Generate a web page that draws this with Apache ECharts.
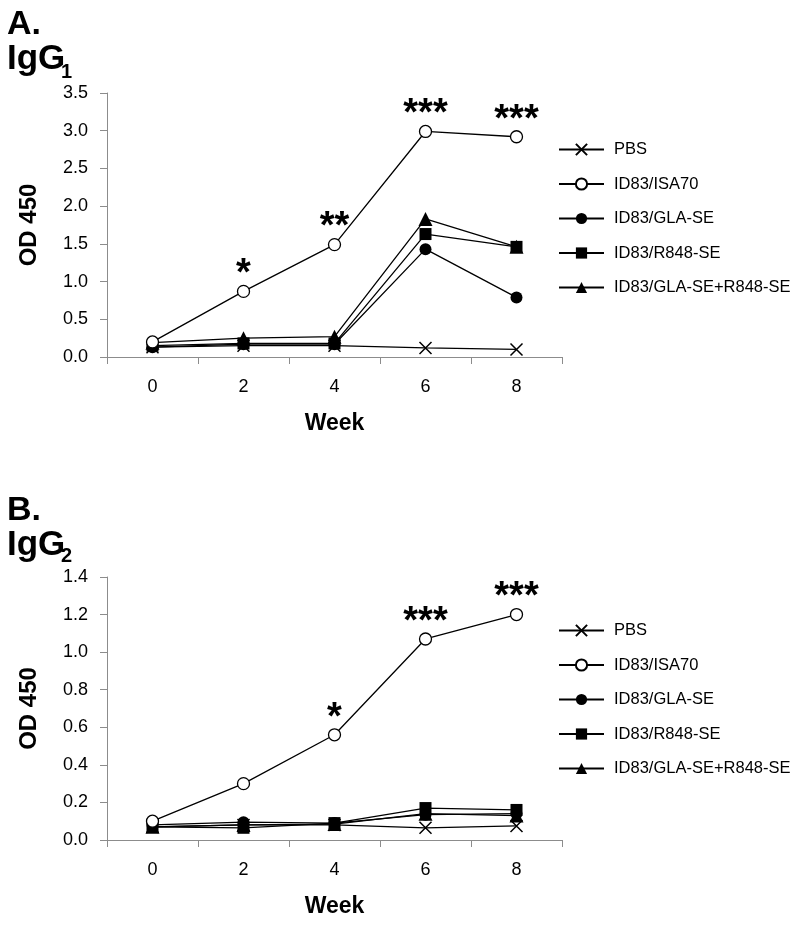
<!DOCTYPE html>
<html><head><meta charset="utf-8">
<script src="https://cdn.jsdelivr.net/npm/echarts@6/dist/echarts.min.js"></script>
<style>html,body{margin:0;padding:0;background:#fff}#c{width:800px;height:926px}</style>
</head><body><div id="c"></div>
<script>
const weeks = ['0','2','4','6','8'];
const seriesNames = ['PBS','ID83/ISA70','ID83/GLA-SE','ID83/R848-SE','ID83/GLA-SE+R848-SE'];

const igg1_PBS   = [0.13, 0.15, 0.15, 0.12, 0.10];
const igg1_ISA70 = [0.20, 0.87, 1.49, 2.99, 2.92];
const igg1_GLA   = [0.13, 0.17, 0.17, 1.43, 0.79];
const igg1_R848  = [0.15, 0.18, 0.18, 1.63, 1.46];
const igg1_Combo = [0.19, 0.25, 0.27, 1.83, 1.46];
const igg1_stars = ['', '*', '**', '***', '***'];

const igg2_PBS   = [0.07, 0.08, 0.08, 0.065, 0.075];
const igg2_ISA70 = [0.10, 0.30, 0.56, 1.07, 1.20];
const igg2_GLA   = [0.08, 0.095, 0.09, 0.135, 0.14];
const igg2_R848  = [0.07, 0.065, 0.09, 0.17, 0.16];
const igg2_Combo = [0.07, 0.08, 0.085, 0.14, 0.13];
const igg2_stars = ['', '', '*', '***', '***'];

const FONT = 'Liberation Sans, Arial, sans-serif';
const crossPath = 'path://M0,0L10,10M10,0L0,10';
const styles = [
  {symbol: crossPath, symbolSize: 12, itemStyle:{color:'none', borderColor:'#000', borderWidth:1.5}},
  {symbol: 'circle', symbolSize: 12, itemStyle:{color:'#fff', borderColor:'#000', borderWidth:1.3}},
  {symbol: 'circle', symbolSize: 12, itemStyle:{color:'#000', borderColor:'#000', borderWidth:0}},
  {symbol: 'rect', symbolSize: 12, itemStyle:{color:'#000', borderColor:'#000', borderWidth:0}},
  {symbol: 'triangle', symbolSize: 14, itemStyle:{color:'#000', borderColor:'#000', borderWidth:0}}
];

function mkSeries(idx, datasets, stars) {
  return datasets.map((d, i) => {
    const s = Object.assign({
      type: 'line', name: seriesNames[i], xAxisIndex: idx, yAxisIndex: idx,
      data: d, showAllSymbol: true,
      lineStyle: {color:'#000', width:1.3},
      emphasis: {disabled: true}, animation: false, z: 10 - i
    }, styles[i]);
    if (i === 1) {
      s.label = {show: true, position: 'top', distance: -9,
        formatter: p => stars[p.dataIndex],
        fontFamily: FONT, fontWeight: 'bold', fontSize: 38, color: '#000'};
      s.z = 20;
    }
    return s;
  });
}

function mkX(gridIdx) {
  return {type:'category', gridIndex:gridIdx, data: weeks, boundaryGap:true,
    name:'Week', nameLocation:'middle', nameGap:55,
    nameTextStyle:{fontFamily:FONT, fontWeight:'bold', fontSize:23, color:'#000'},
    axisLine:{lineStyle:{color:'#8c8c8c', width:1}},
    axisTick:{show:true, length:7, inside:false, alignWithLabel:false, lineStyle:{color:'#8c8c8c'}},
    axisLabel:{margin:21, fontFamily:FONT, fontSize:18, color:'#000'},
    splitLine:{show:false}};
}
function mkY(gridIdx, max, interval) {
  return {type:'value', gridIndex:gridIdx, min:0, max:max, interval:interval,
    name:'OD 450', nameLocation:'middle', nameGap:66, nameRotate:90,
    nameTextStyle:{fontFamily:FONT, fontWeight:'bold', fontSize:24, color:'#000'},
    axisLine:{show:true, lineStyle:{color:'#8c8c8c', width:1}},
    axisTick:{show:true, length:7, lineStyle:{color:'#8c8c8c'}},
    axisLabel:{margin:19, fontFamily:FONT, fontSize:18, color:'#000', formatter: v => v.toFixed(1)},
    splitLine:{show:false}};
}
function mkLegend(top) {
  return {orient:'vertical', left:553, top:top, itemWidth:45, itemHeight:14, itemGap:17.5,
    data: seriesNames, selectedMode:false,
    textStyle:{fontFamily:FONT, fontSize:16.5, color:'#000', padding:[0,0,0,5]}};
}

const chart = echarts.init(document.getElementById('c'), null, {renderer:'canvas'});
chart.setOption({
  animation: false,
  backgroundColor: '#fff',
  grid: [
    {left:107, top:93, width:455, height:264},
    {left:107, top:577, width:455, height:263}
  ],
  xAxis: [mkX(0), mkX(1)],
  yAxis: [mkY(0,3.5,0.5), mkY(1,1.4,0.2)],
  legend: [mkLegend(136), mkLegend(617)],
  graphic: [
    {type:'text', left:7, top:8, style:{text:'A.', font:'bold 34px '+FONT, fill:'#000'}},
    {type:'text', left:7, top:42, style:{text:'IgG', font:'bold 35px '+FONT, fill:'#000'}},
    {type:'text', left:61, top:62, style:{text:'1', font:'bold 20px '+FONT, fill:'#000'}},
    {type:'text', left:7, top:494, style:{text:'B.', font:'bold 34px '+FONT, fill:'#000'}},
    {type:'text', left:7, top:528, style:{text:'IgG', font:'bold 35px '+FONT, fill:'#000'}},
    {type:'text', left:61, top:546, style:{text:'2', font:'bold 20px '+FONT, fill:'#000'}}
  ],
  series: [].concat(
    mkSeries(0, [igg1_PBS, igg1_ISA70, igg1_GLA, igg1_R848, igg1_Combo], igg1_stars),
    mkSeries(1, [igg2_PBS, igg2_ISA70, igg2_GLA, igg2_R848, igg2_Combo], igg2_stars)
  )
});
</script></body></html>
